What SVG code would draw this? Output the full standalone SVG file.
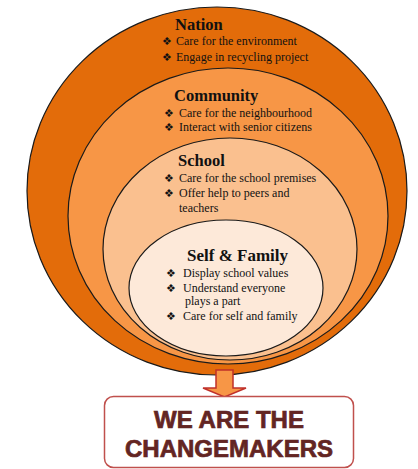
<svg xmlns="http://www.w3.org/2000/svg" width="418" height="469" viewBox="0 0 418 469">
<style>
.ring{stroke:#1a1a1a;stroke-width:1.2}
.h{font-family:"Liberation Serif",serif;font-weight:bold;font-size:16.5px;fill:#111}
.t{font-family:"Liberation Serif",serif;font-size:12px;fill:#111}
.b{font-family:"DejaVu Sans",sans-serif;font-size:11px;fill:#111}
.big{font-family:"Liberation Sans",sans-serif;font-weight:bold;font-size:24px;fill:#632523;stroke:#632523;stroke-width:0.7;text-anchor:middle}
</style>
<rect width="418" height="469" fill="#ffffff"/>
<g id="nation">
<ellipse class="ring" cx="217" cy="191" rx="190" ry="184" fill="#e36c0a"/>
<text class="h" x="175" y="30">Nation</text>
<text class="b" x="162" y="45">❖</text><text class="t" x="176" y="45">Care for the environment</text>
<text class="b" x="162" y="61">❖</text><text class="t" x="176" y="61">Engage in recycling project</text>
</g>
<g id="community">
<ellipse class="ring" cx="228" cy="216" rx="160" ry="148" fill="#f79646"/>
<text class="h" x="174" y="101">Community</text>
<text class="b" x="164" y="117">❖</text><text class="t" x="179" y="117">Care for the neighbourhood</text>
<text class="b" x="164" y="131">❖</text><text class="t" x="179" y="131">Interact with senior citizens</text>
</g>
<g id="school">
<ellipse class="ring" cx="230" cy="249" rx="127" ry="111" fill="#fac08f"/>
<text class="h" x="178" y="166">School</text>
<text class="b" x="164" y="182">❖</text><text class="t" x="179" y="182">Care for the school premises</text>
<text class="b" x="164" y="197">❖</text><text class="t" x="179" y="197">Offer help to peers and</text>
<text class="t" x="179" y="212">teachers</text>
</g>
<g id="self-family">
<ellipse class="ring" cx="226" cy="288" rx="97" ry="68" fill="#fde9d9"/>
<text class="h" x="187" y="261" style="font-size:17px">Self &amp; Family</text>
<text class="b" x="166" y="277">❖</text><text class="t" x="183" y="277">Display school values</text>
<text class="b" x="166" y="292">❖</text><text class="t" x="183" y="292">Understand everyone</text>
<text class="t" x="185" y="305">plays a part</text>
<text class="b" x="166" y="320">❖</text><text class="t" x="183" y="320">Care for self and family</text>
</g>
<g id="connectors">
<path d="M216,370 H233 V388 H246 L224.5,397 L203,388 H216 Z" fill="#f79646" stroke="#c0302a" stroke-width="1.5" stroke-linejoin="miter"/>
</g>
<g id="changemakers">
<rect x="104.5" y="396.5" width="249" height="71" rx="9" fill="#ffffff" stroke="#c0504d" stroke-width="1.5"/>
<text class="big" x="229" y="428">WE ARE THE</text>
<text class="big" x="229" y="457">CHANGEMAKERS</text>
</g>
</svg>
